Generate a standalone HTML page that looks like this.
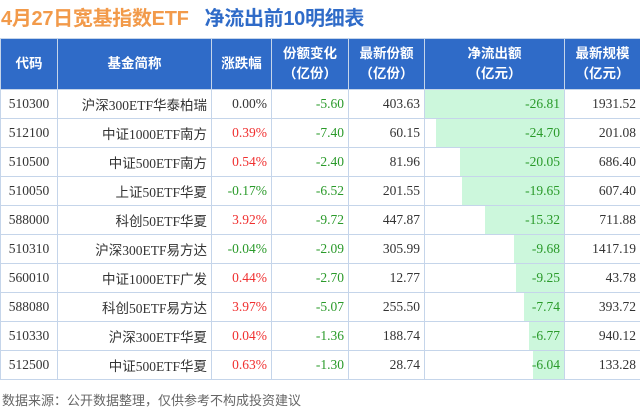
<!DOCTYPE html>
<html><head><meta charset="utf-8"><style>
body{margin:0;width:640px;height:410px;background:#fff;overflow:hidden;position:relative;font-family:"Liberation Sans","Noto Sans CJK SC",sans-serif}
.title{position:absolute;left:1px;top:2px;font-size:20px;font-weight:bold;white-space:nowrap;letter-spacing:-0.3px}
.o{color:#f29a4a}.b{color:#2f6bc8;margin-left:16px}
table{position:absolute;left:0;top:38px;border-collapse:collapse;table-layout:fixed;width:640px}
th{background:#2f6bc8;color:#fff;font-size:13.5px;font-weight:bold;height:50px;border:1px solid #c5d5ea;line-height:20px;padding:0}
td{height:28px;border:1px solid #c5d5ea;font-family:"Liberation Serif","Noto Sans CJK SC",serif;font-size:13.5px;text-align:right;padding:0 4px 0 0;color:#333;white-space:nowrap;position:relative}
td.c{text-align:center;padding:0}
.r{color:#f03030}.g{color:#2a9a2a}
.bar{position:absolute;right:0;top:0;bottom:0;background:#ccf7dc}
.bar+span{position:relative}
.src{position:absolute;left:2px;top:390px;font-size:13px;color:#666}
</style></head><body>
<div class="title"><span class="o">4月27日宽基指数ETF</span><span class="b">净流出前10明细表</span></div>
<table>
<colgroup><col style="width:57px"><col style="width:154px"><col style="width:60px"><col style="width:77px"><col style="width:76px"><col style="width:140px"><col style="width:76px"></colgroup>
<tr><th>代码</th><th>基金简称</th><th>涨跌幅</th><th>份额变化<br>（亿份）</th><th>最新份额<br>（亿份）</th><th>净流出额<br>（亿元）</th><th>最新规模<br>（亿元）</th></tr>
<tr><td class="c">510300</td><td>沪深300ETF华泰柏瑞</td><td>0.00%</td><td class="g">-5.60</td><td>403.63</td><td class="g"><div class="bar" style="width:139px"></div><span>-26.81</span></td><td>1931.52</td></tr>
<tr><td class="c">512100</td><td>中证1000ETF南方</td><td class="r">0.39%</td><td class="g">-7.40</td><td>60.15</td><td class="g"><div class="bar" style="width:128px"></div><span>-24.70</span></td><td>201.08</td></tr>
<tr><td class="c">510500</td><td>中证500ETF南方</td><td class="r">0.54%</td><td class="g">-2.40</td><td>81.96</td><td class="g"><div class="bar" style="width:104px"></div><span>-20.05</span></td><td>686.40</td></tr>
<tr><td class="c">510050</td><td>上证50ETF华夏</td><td class="g">-0.17%</td><td class="g">-6.52</td><td>201.55</td><td class="g"><div class="bar" style="width:102px"></div><span>-19.65</span></td><td>607.40</td></tr>
<tr><td class="c">588000</td><td>科创50ETF华夏</td><td class="r">3.92%</td><td class="g">-9.72</td><td>447.87</td><td class="g"><div class="bar" style="width:79px"></div><span>-15.32</span></td><td>711.88</td></tr>
<tr><td class="c">510310</td><td>沪深300ETF易方达</td><td class="g">-0.04%</td><td class="g">-2.09</td><td>305.99</td><td class="g"><div class="bar" style="width:50px"></div><span>-9.68</span></td><td>1417.19</td></tr>
<tr><td class="c">560010</td><td>中证1000ETF广发</td><td class="r">0.44%</td><td class="g">-2.70</td><td>12.77</td><td class="g"><div class="bar" style="width:48px"></div><span>-9.25</span></td><td>43.78</td></tr>
<tr><td class="c">588080</td><td>科创50ETF易方达</td><td class="r">3.97%</td><td class="g">-5.07</td><td>255.50</td><td class="g"><div class="bar" style="width:40px"></div><span>-7.74</span></td><td>393.72</td></tr>
<tr><td class="c">510330</td><td>沪深300ETF华夏</td><td class="r">0.04%</td><td class="g">-1.36</td><td>188.74</td><td class="g"><div class="bar" style="width:35px"></div><span>-6.77</span></td><td>940.12</td></tr>
<tr><td class="c">512500</td><td>中证500ETF华夏</td><td class="r">0.63%</td><td class="g">-1.30</td><td>28.74</td><td class="g"><div class="bar" style="width:31px"></div><span>-6.04</span></td><td>133.28</td></tr>
</table>
<div class="src">数据来源：公开数据整理，仅供参考不构成投资建议</div>
</body></html>
